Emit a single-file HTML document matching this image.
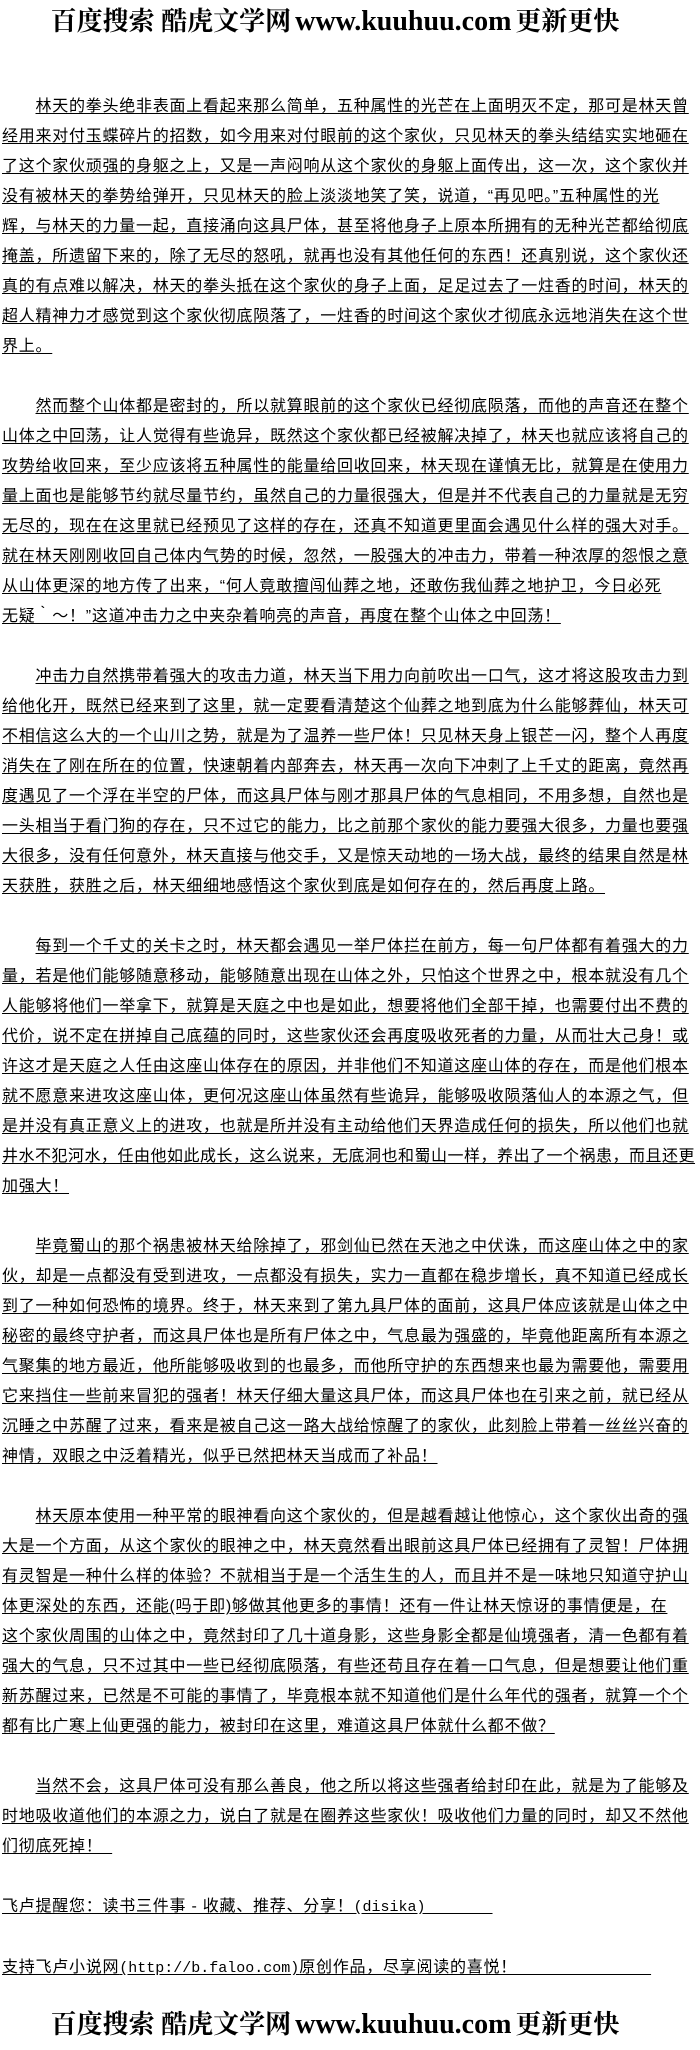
<!DOCTYPE html>
<html><head><meta charset="utf-8">
<style>
html,body{margin:0;padding:0;background:#fff;}
body{width:700px;height:2050px;position:relative;overflow:hidden;color:#000;}
.ban{position:absolute;left:38px;width:594px;height:34px;text-align:center;white-space:nowrap;font-weight:bold;line-height:34px;}
.ban .c{font-family:"Noto Serif CJK SC","Liberation Serif",serif;font-size:26px;letter-spacing:0px;}
.ban .u{font-family:"Liberation Serif",serif;font-size:28px;}
#t{position:absolute;left:2px;top:92px;width:696px;font-family:"Liberation Sans","Noto Sans CJK SC",sans-serif;font-size:16px;letter-spacing:0.75px;line-height:30px;white-space:nowrap;}
#t u{text-decoration:underline;text-underline-offset:2px;}
.m{font-family:"Liberation Mono",monospace;font-size:15px;letter-spacing:0;}
.n{letter-spacing:0.5px;}
</style></head><body>
<div class="ban" style="top:3px"><span class="c">百度搜索 酷虎文学网</span> <span class="u">www.kuuhuu.com</span> <span class="c">更新更快</span></div>
<div id="t">
　　<u>林天的拳头绝非表面上看起来那么简单，五种属性的光芒在上面明灭不定，那可是林天曾</u><br>
<u>经用来对付玉蝶碎片的招数，如今用来对付眼前的这个家伙，只见林天的拳头结结实实地砸在</u><br>
<u>了这个家伙顽强的身躯之上，又是一声闷响从这个家伙的身躯上面传出，这一次，这个家伙并</u><br>
<u>没有被林天的拳势给弹开，只见林天的脸上淡淡地笑了笑，说道，“再见吧。”五种属性的光</u><br>
<u>辉，与林天的力量一起，直接涌向这具尸体，甚至将他身子上原本所拥有的无种光芒都给彻底</u><br>
<u>掩盖，所遗留下来的，除了无尽的怒吼，就再也没有其他任何的东西！还真别说，这个家伙还</u><br>
<u>真的有点难以解决，林天的拳头抵在这个家伙的身子上面，足足过去了一炷香的时间，林天的</u><br>
<u>超人精神力才感觉到这个家伙彻底陨落了，一炷香的时间这个家伙才彻底永远地消失在这个世</u><br>
<u>界上。</u><br>
<br>
　　<u>然而整个山体都是密封的，所以就算眼前的这个家伙已经彻底陨落，而他的声音还在整个</u><br>
<u>山体之中回荡，让人觉得有些诡异，既然这个家伙都已经被解决掉了，林天也就应该将自己的</u><br>
<u>攻势给收回来，至少应该将五种属性的能量给回收回来，林天现在谨慎无比，就算是在使用力</u><br>
<u>量上面也是能够节约就尽量节约，虽然自己的力量很强大，但是并不代表自己的力量就是无穷</u><br>
<u>无尽的，现在在这里就已经预见了这样的存在，还真不知道更里面会遇见什么样的强大对手。</u><br>
<u>就在林天刚刚收回自己体内气势的时候，忽然，一股强大的冲击力，带着一种浓厚的怨恨之意</u><br>
<u>从山体更深的地方传了出来，“何人竟敢擅闯仙葬之地，还敢伤我仙葬之地护卫，今日必死</u><br>
<u>无疑｀～！”这道冲击力之中夹杂着响亮的声音，再度在整个山体之中回荡！</u><br>
<br>
　　<u>冲击力自然携带着强大的攻击力道，林天当下用力向前吹出一口气，这才将这股攻击力到</u><br>
<u>给他化开，既然已经来到了这里，就一定要看清楚这个仙葬之地到底为什么能够葬仙，林天可</u><br>
<u>不相信这么大的一个山川之势，就是为了温养一些尸体！只见林天身上银芒一闪，整个人再度</u><br>
<u>消失在了刚在所在的位置，快速朝着内部奔去，林天再一次向下冲刺了上千丈的距离，竟然再</u><br>
<u>度遇见了一个浮在半空的尸体，而这具尸体与刚才那具尸体的气息相同，不用多想，自然也是</u><br>
<u>一头相当于看门狗的存在，只不过它的能力，比之前那个家伙的能力要强大很多，力量也要强</u><br>
<u>大很多，没有任何意外，林天直接与他交手，又是惊天动地的一场大战，最终的结果自然是林</u><br>
<u>天获胜，获胜之后，林天细细地感悟这个家伙到底是如何存在的，然后再度上路。</u><br>
<br>
　　<u>每到一个千丈的关卡之时，林天都会遇见一举尸体拦在前方，每一句尸体都有着强大的力</u><br>
<u>量，若是他们能够随意移动，能够随意出现在山体之外，只怕这个世界之中，根本就没有几个</u><br>
<u>人能够将他们一举拿下，就算是天庭之中也是如此，想要将他们全部干掉，也需要付出不费的</u><br>
<u>代价，说不定在拼掉自己底蕴的同时，这些家伙还会再度吸收死者的力量，从而壮大己身！或</u><br>
<u>许这才是天庭之人任由这座山体存在的原因，并非他们不知道这座山体的存在，而是他们根本</u><br>
<u>就不愿意来进攻这座山体，更何况这座山体虽然有些诡异，能够吸收陨落仙人的本源之气，但</u><br>
<u>是并没有真正意义上的进攻，也就是所并没有主动给他们天界造成任何的损失，所以他们也就</u><br>
<u class="n">井水不犯河水，任由他如此成长，这么说来，无底洞也和蜀山一样，养出了一个祸患，而且还更</u><br>
<u>加强大！</u><br>
<br>
　　<u>毕竟蜀山的那个祸患被林天给除掉了，邪剑仙已然在天池之中伏诛，而这座山体之中的家</u><br>
<u>伙，却是一点都没有受到进攻，一点都没有损失，实力一直都在稳步增长，真不知道已经成长</u><br>
<u>到了一种如何恐怖的境界。终于，林天来到了第九具尸体的面前，这具尸体应该就是山体之中</u><br>
<u>秘密的最终守护者，而这具尸体也是所有尸体之中，气息最为强盛的，毕竟他距离所有本源之</u><br>
<u>气聚集的地方最近，他所能够吸收到的也最多，而他所守护的东西想来也最为需要他，需要用</u><br>
<u>它来挡住一些前来冒犯的强者！林天仔细大量这具尸体，而这具尸体也在引来之前，就已经从</u><br>
<u>沉睡之中苏醒了过来，看来是被自己这一路大战给惊醒了的家伙，此刻脸上带着一丝丝兴奋的</u><br>
<u>神情，双眼之中泛着精光，似乎已然把林天当成而了补品！</u><br>
<br>
　　<u>林天原本使用一种平常的眼神看向这个家伙的，但是越看越让他惊心，这个家伙出奇的强</u><br>
<u>大是一个方面，从这个家伙的眼神之中，林天竟然看出眼前这具尸体已经拥有了灵智！尸体拥</u><br>
<u>有灵智是一种什么样的体验？不就相当于是一个活生生的人，而且并不是一味地只知道守护山</u><br>
<u>体更深处的东西，还能(吗于即)够做其他更多的事情！还有一件让林天惊讶的事情便是，在</u><br>
<u>这个家伙周围的山体之中，竟然封印了几十道身影，这些身影全都是仙境强者，清一色都有着</u><br>
<u>强大的气息，只不过其中一些已经彻底陨落，有些还苟且存在着一口气息，但是想要让他们重</u><br>
<u>新苏醒过来，已然是不可能的事情了，毕竟根本就不知道他们是什么年代的强者，就算一个个</u><br>
<u>都有比广寒上仙更强的能力，被封印在这里，难道这具尸体就什么都不做？</u><br>
<br>
　　<u>当然不会，这具尸体可没有那么善良，他之所以将这些强者给封印在此，就是为了能够及</u><br>
<u>时地吸收道他们的本源之力，说白了就是在圈养这些家伙！吸收他们力量的同时，却又不然他</u><br>
<u>们彻底死掉！_</u><br>
<br>
<u>飞卢提醒您：读书三件事 - 收藏、推荐、分享！<span class="m">(disika)</span>　　　　</u><br>
<br>
<u>支持飞卢小说网<span class="m">(http://b.faloo.com)</span>原创作品，尽享阅读的喜悦！　　　　　　　　</u><br>
</div>
<div class="ban" style="top:2006px"><span class="c">百度搜索 酷虎文学网</span> <span class="u">www.kuuhuu.com</span> <span class="c">更新更快</span></div>
</body></html>
